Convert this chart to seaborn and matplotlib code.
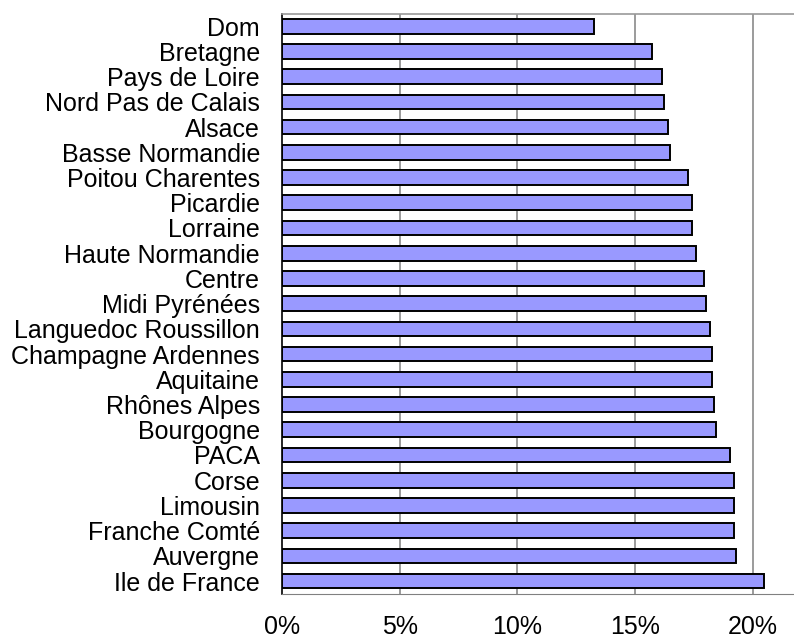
import matplotlib
matplotlib.use('Agg')
import matplotlib.pyplot as plt
import seaborn as sns
import pandas as pd
from matplotlib.ticker import PercentFormatter

regions = ["Dom", "Bretagne", "Pays de Loire", "Nord Pas de Calais", "Alsace",
           "Basse Normandie", "Poitou Charentes", "Picardie", "Lorraine",
           "Haute Normandie", "Centre", "Midi Pyrénées", "Languedoc Roussillon",
           "Champagne Ardennes", "Aquitaine", "Rhônes Alpes", "Bourgogne", "PACA",
           "Corse", "Limousin", "Franche Comté", "Auvergne", "Ile de France"]
shares = [13.27, 15.71, 16.14, 16.24, 16.40, 16.48, 17.26, 17.41, 17.43,
          17.60, 17.94, 18.02, 18.19, 18.29, 18.29, 18.38, 18.45, 19.04,
          19.19, 19.19, 19.19, 19.31, 20.49]

df = pd.DataFrame({"region": regions, "share": shares})

sns.set_style("white")
plt.rcParams['font.family'] = ['Liberation Sans', 'DejaVu Sans']
plt.rcParams['text.color'] = 'black'
plt.rcParams['xtick.labelcolor'] = 'black'
plt.rcParams['ytick.labelcolor'] = 'black'

fig = plt.figure(figsize=(7.94, 6.38), dpi=100)
ax = fig.add_axes([0.3553, 0.0694, 1 - 0.3553, 0.9093])

sns.barplot(data=df, y="region", x="share", orient="h", color="#9999FF",
            edgecolor="black", linewidth=1.4, width=0.58, saturation=1, ax=ax)

n = len(regions)
ax.set_ylim(n - 0.5, -0.5)
ax.set_xlim(0, 21.76)

# vertical grid lines like the original
ax.set_xticks([0, 5, 10, 15, 20])
ax.xaxis.set_major_formatter(PercentFormatter(decimals=0))
for v in [5, 10, 15, 20]:
    ax.axvline(v, color="#808080", linewidth=1.1, zorder=0)

# category ticks sit at the boundaries, labels in between
ax.set_yticks([i - 0.5 for i in range(n + 1)], minor=False)
ax.set_yticklabels([])
ax.set_yticks(range(n), minor=True)
ax.set_yticklabels(regions, minor=True)
ax.tick_params(axis="y", which="major", length=6, width=1, color="#202020", direction="out")
ax.tick_params(axis="y", which="minor", length=0, pad=16, labelsize=18)
ax.tick_params(axis="x", length=6, width=1, color="#808080", direction="out",
               pad=9, labelsize=18)

ax.set_xlabel("")
ax.set_ylabel("")
ax.spines["left"].set_color("black")
ax.spines["left"].set_linewidth(1.2)
ax.spines["bottom"].set_color("#808080")
ax.spines["top"].set_color("#999999")
ax.spines["top"].set_linewidth(1.2)
ax.spines["right"].set_visible(False)

plt.savefig("out.png", dpi=100)
plt.close()
